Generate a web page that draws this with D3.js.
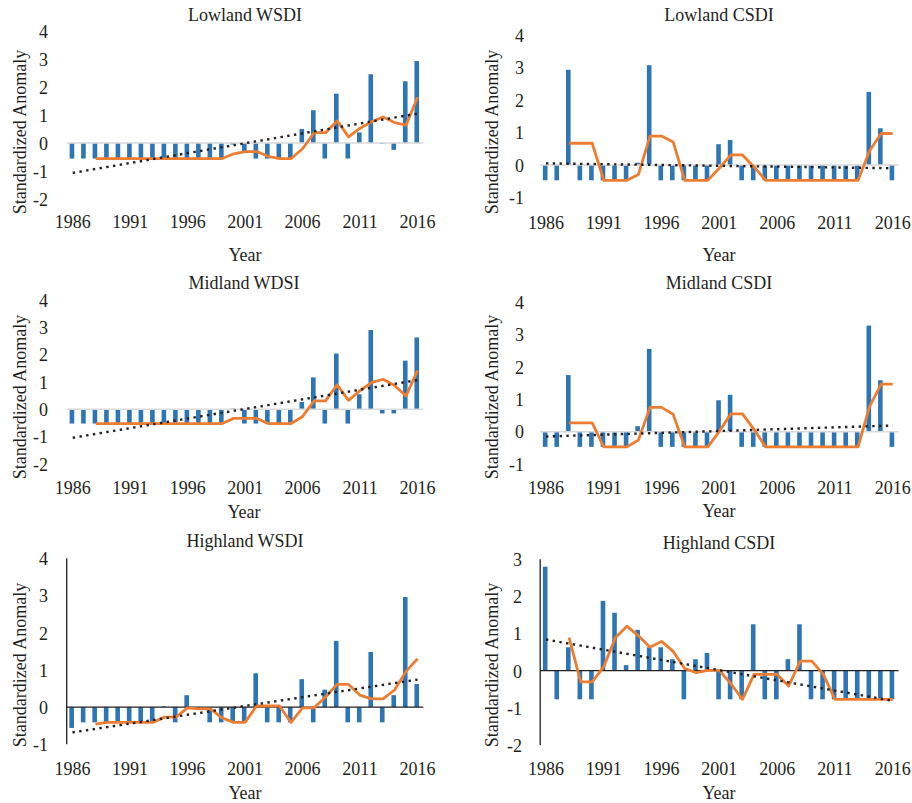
<!DOCTYPE html>
<html>
<head>
<meta charset="utf-8">
<script src="https://cdn.jsdelivr.net/npm/d3@7"></script>
<style>
  html, body { margin: 0; padding: 0; background: #fff; }
  svg { display: block; }
  text { font-family: "Liberation Serif", "DejaVu Serif", serif; fill: #231f20; }
</style>
</head>
<body>
<svg id="chart" width="912" height="803"></svg>
<script>
// ---------- DATA ----------
const years = d3.range(1986, 2017);
const maYears = d3.range(1988, 2017);
const xTickYears = [1986, 1991, 1996, 2001, 2006, 2011, 2016];

const lowlandWSDI = [-0.55,-0.55,-0.55,-0.55,-0.55,-0.55,-0.55,-0.55,-0.55,-0.55,-0.55,-0.55,-0.55,-0.55,-0.05,-0.3,-0.55,-0.55,-0.55,-0.55,0.5,1.17,-0.55,1.76,-0.55,0.38,2.45,-0.03,-0.24,2.2,2.92];
const lowlandWSDIAvg = [-0.55,-0.55,-0.55,-0.55,-0.55,-0.55,-0.55,-0.55,-0.55,-0.55,-0.55,-0.55,-0.38,-0.3,-0.3,-0.47,-0.55,-0.55,-0.2,0.37,0.37,0.79,0.22,0.53,0.76,0.93,0.73,0.64,1.63];
const lowlandWSDITrend = [-1.06, 1.05];

const lowlandCSDI = [-0.47,-0.47,2.93,-0.47,-0.47,-0.47,-0.47,-0.47,0.07,3.07,-0.47,-0.47,-0.47,-0.47,-0.47,0.64,0.77,-0.47,-0.47,-0.47,-0.47,-0.47,-0.47,-0.47,-0.47,-0.47,-0.47,-0.47,2.25,1.13,-0.47];
const lowlandCSDIAvg = [0.67,0.67,0.67,-0.47,-0.47,-0.47,-0.29,0.89,0.89,0.71,-0.47,-0.47,-0.47,-0.1,0.31,0.31,-0.06,-0.47,-0.47,-0.47,-0.47,-0.47,-0.47,-0.47,-0.47,-0.47,0.44,0.97,0.97];
const lowlandCSDITrend = [0.05, -0.1];

const midlandWDSI = [-0.52,-0.52,-0.52,-0.52,-0.52,-0.52,-0.52,-0.52,-0.52,-0.52,-0.52,-0.52,-0.52,-0.52,0.03,-0.52,-0.52,-0.52,-0.52,-0.52,0.27,1.17,-0.52,2.04,-0.52,0.55,2.9,-0.15,-0.15,1.78,2.63];
const midlandWDSIAvg = [-0.52,-0.52,-0.52,-0.52,-0.52,-0.52,-0.52,-0.52,-0.52,-0.52,-0.52,-0.52,-0.33,-0.33,-0.33,-0.52,-0.52,-0.52,-0.26,0.31,0.31,0.9,0.33,0.69,0.98,1.1,0.87,0.49,1.42];
const midlandWDSITrend = [-1.04, 1.07];

const midlandCSDI = [-0.47,-0.47,1.75,-0.47,-0.47,-0.47,-0.47,-0.47,0.17,2.56,-0.47,-0.47,-0.47,-0.47,-0.47,0.97,1.14,-0.47,-0.47,-0.47,-0.47,-0.47,-0.47,-0.47,-0.47,-0.47,-0.47,-0.47,3.28,1.59,-0.47];
const midlandCSDIAvg = [0.27,0.27,0.27,-0.47,-0.47,-0.47,-0.26,0.75,0.75,0.54,-0.47,-0.47,-0.47,0.01,0.55,0.55,0.07,-0.47,-0.47,-0.47,-0.47,-0.47,-0.47,-0.47,-0.47,-0.47,0.78,1.47,1.47];
const midlandCSDITrend = [-0.15, 0.19];

const highlandWSDI = [-0.56,-0.41,-0.41,-0.41,-0.41,-0.41,-0.41,-0.41,0.02,-0.41,0.32,-0.05,-0.41,-0.41,-0.41,-0.41,0.91,-0.41,-0.41,-0.41,0.75,-0.41,0.47,1.78,-0.41,-0.41,1.48,-0.41,0.32,2.96,0.62];
const highlandWSDIAvg = [-0.46,-0.41,-0.41,-0.41,-0.41,-0.41,-0.27,-0.27,-0.02,-0.05,-0.05,-0.29,-0.41,-0.41,0.03,0.03,0.03,-0.41,-0.02,-0.02,0.27,0.61,0.61,0.32,0.22,0.22,0.46,0.96,1.3];
const highlandWSDITrend = [-0.68, 0.74];

const highlandCSDI = [2.8,-0.77,0.63,-0.77,-0.77,1.88,1.56,0.15,1.1,0.63,0.63,0.31,-0.77,0.31,0.48,-0.77,-0.77,-0.77,1.25,-0.77,-0.77,0.31,1.25,-0.77,-0.77,-0.77,-0.77,-0.77,-0.77,-0.77,-0.77];
const highlandCSDIAvg = [0.89,-0.3,-0.3,0.11,0.89,1.2,0.94,0.63,0.79,0.52,0.06,-0.05,0.01,0.01,-0.35,-0.77,-0.1,-0.1,-0.1,-0.41,0.26,0.26,-0.1,-0.77,-0.77,-0.77,-0.77,-0.77,-0.77];
const highlandCSDITrend = [0.84, -0.81];

const titles = ["Lowland WSDI", "Lowland CSDI", "Midland WDSI", "Midland CSDI", "Highland WSDI", "Highland CSDI"];
const yTicksA = [-2, -1, 0, 1, 2, 3, 4];
const yTicksB = [-1, 0, 1, 2, 3, 4];
const yTicksC = [-2, -1, 0, 1, 2, 3];
const yAxisTitle = "Standardized Anomaly";
const xAxisTitle = "Year";

// ---------- LAYOUT ----------
const panels = [
  { title: titles[0], bars: lowlandWSDI, avg: lowlandWSDIAvg, trend: lowlandWSDITrend, ticks: yTicksA,
    xr: [67, 423.3], yr: [199.3, 30.7], tickRight: 48, xTickY: 222, yearY: 255, cx: 245, titleY: 15, ytX: 20, ytY: 132, black: false },
  { title: titles[1], bars: lowlandCSDI, avg: lowlandCSDIAvg, trend: lowlandCSDITrend, ticks: yTicksB,
    xr: [540.2, 898.5], yr: [197.5, 35], tickRight: 524, xTickY: 223, yearY: 255, cx: 719, titleY: 15, ytX: 492, ytY: 132, black: false },
  { title: titles[2], bars: midlandWDSI, avg: midlandWDSIAvg, trend: midlandWDSITrend, ticks: yTicksA,
    xr: [67, 423.3], yr: [464, 300], tickRight: 48, xTickY: 488, yearY: 512, cx: 244, titleY: 283, ytX: 20, ytY: 397, black: false },
  { title: titles[3], bars: midlandCSDI, avg: midlandCSDIAvg, trend: midlandCSDITrend, ticks: yTicksB,
    xr: [540.2, 898.5], yr: [464, 302.3], tickRight: 524, xTickY: 488, yearY: 511, cx: 719, titleY: 283, ytX: 492, ytY: 397, black: false },
  { title: titles[4], bars: highlandWSDI, avg: highlandWSDIAvg, trend: highlandWSDITrend, ticks: yTicksB,
    xr: [66.7, 423.3], yr: [744.3, 558.3], tickRight: 48, xTickY: 769, yearY: 793, cx: 245, titleY: 541, ytX: 20, ytY: 665, black: true },
  { title: titles[5], bars: highlandCSDI, avg: highlandCSDIAvg, trend: highlandCSDITrend, ticks: yTicksC,
    xr: [540.2, 898.5], yr: [745, 559.3], tickRight: 522, xTickY: 769, yearY: 793, cx: 719, titleY: 543, ytX: 492, ytY: 665, black: true }
];

const FONT = 18;
const svg = d3.select("#chart");

panels.forEach(p => {
  const g = svg.append("g");
  const x = d3.scaleBand().domain(years).range(p.xr).padding(0);
  const y = d3.scaleLinear().domain([d3.min(p.ticks), d3.max(p.ticks)]).range(p.yr);
  const cxOf = yr => x(yr) + x.bandwidth() / 2;

  // vertical axis (highland panels)
  if (p.black) {
    g.append("line")
      .attr("x1", p.xr[0]).attr("x2", p.xr[0])
      .attr("y1", y(d3.max(p.ticks))).attr("y2", y(d3.min(p.ticks)))
      .attr("stroke", "#231f20").attr("stroke-width", 1.3);
  }

  // bars
  const bw = 4.6;
  g.append("g").selectAll("rect").data(p.bars).join("rect")
    .attr("x", (d, i) => cxOf(years[i]) - bw / 2 - 0.8)
    .attr("width", bw)
    .attr("y", d => Math.min(y(d), y(0)))
    .attr("height", d => Math.abs(y(d) - y(0)))
    .attr("fill", "#2e75b6");

  // zero line
  g.append("line")
    .attr("x1", p.xr[0]).attr("x2", p.xr[1])
    .attr("y1", y(0)).attr("y2", y(0))
    .attr("stroke", p.black ? "#231f20" : "#d9d9d9")
    .attr("stroke-width", p.black ? 1.3 : 1.5);

  // moving average line
  const line = d3.line().x((d, i) => cxOf(maYears[i])).y(d => y(d));
  g.append("path").datum(p.avg)
    .attr("d", line)
    .attr("fill", "none")
    .attr("stroke", "#ed7d31")
    .attr("stroke-width", 2.8)
    .attr("stroke-linejoin", "round");

  // trend line
  g.append("line")
    .attr("x1", cxOf(years[0])).attr("y1", y(p.trend[0]))
    .attr("x2", cxOf(years[years.length - 1])).attr("y2", y(p.trend[1]))
    .attr("stroke", "#231f20")
    .attr("stroke-width", 2.4)
    .attr("stroke-dasharray", "2.4,4.4");

  // x axis labels
  const xa = g.append("g").attr("transform", `translate(0,${p.xTickY})`)
    .call(d3.axisBottom(x).tickValues(xTickYears).tickSize(0).tickPadding(0).tickFormat(d => String(d)));
  xa.select(".domain").remove();
  xa.selectAll("text").attr("dy", "0.35em").attr("y", 0)
    .style("font-size", FONT + "px").style("font-family", '"Liberation Serif", serif').attr("fill", "#231f20");

  // y axis labels
  const ya = g.append("g").attr("transform", `translate(${p.tickRight},0)`)
    .call(d3.axisLeft(y).tickValues(p.ticks).tickSize(0).tickPadding(0).tickFormat(d => String(d)));
  ya.select(".domain").remove();
  ya.selectAll("text").attr("dy", "0.35em").attr("x", 0)
    .style("font-size", FONT + "px").style("font-family", '"Liberation Serif", serif').attr("fill", "#231f20");

  // titles
  g.append("text").attr("x", p.cx).attr("y", p.titleY).attr("dy", "0.35em")
    .attr("text-anchor", "middle").style("font-size", FONT + "px").text(p.title);
  g.append("text").attr("x", p.cx).attr("y", p.yearY).attr("dy", "0.35em")
    .attr("text-anchor", "middle").style("font-size", FONT + "px").text(xAxisTitle);
  g.append("text")
    .attr("transform", `translate(${p.ytX},${p.ytY}) rotate(-90)`)
    .attr("dy", "0.35em").attr("text-anchor", "middle")
    .style("font-size", FONT + "px").text(yAxisTitle);
});
</script>
</body>
</html>
